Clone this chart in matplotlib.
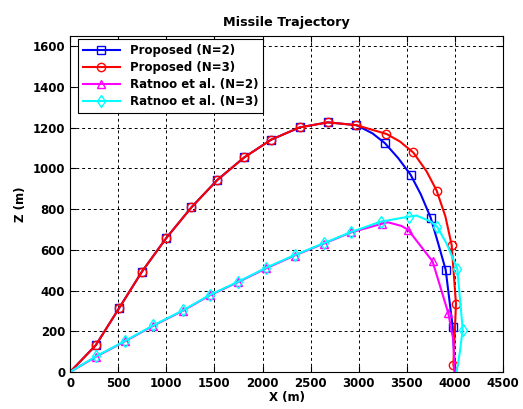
import matplotlib.pyplot as plt

OUTPUT_PATH = 'out.png'

# Proposed guidance law, N=2 (blue squares)
PROP_N2_X = [0, 268, 510, 747, 1000, 1260, 1530, 1810, 2090, 2385, 2680, 2976,
             3142, 3271, 3410, 3538, 3645, 3747, 3826, 3903, 3976, 4000]
PROP_N2_Z = [0, 132, 314, 493, 658, 808, 943, 1054, 1141, 1201, 1226, 1212,
             1172, 1124, 1050, 969, 872, 758, 630, 502, 221, 0]
PROP_N2_MARKS = [1, 2, 3, 4, 5, 6, 7, 8, 9, 10, 11, 13, 15, 17, 19, 20]

# Proposed guidance law, N=3 (red circles)
PROP_N3_X = [0, 268, 510, 747, 1000, 1260, 1530, 1810, 2090, 2385, 2680, 2976,
             3288, 3427, 3566, 3705, 3809, 3900, 3965, 4010, 3983, 4000]
PROP_N3_Z = [0, 132, 314, 493, 658, 808, 943, 1054, 1141, 1201, 1226, 1212,
             1169, 1132, 1078, 985, 891, 764, 624, 335, 34, 0]
PROP_N3_MARKS = [1, 2, 3, 4, 5, 6, 7, 8, 9, 10, 11, 12, 14, 16, 18, 19, 20]

# Ratnoo et al., N=2 (magenta triangles)
RAT_N2_X = [0, 274, 573, 865, 1170, 1455, 1750, 2038, 2333, 2635, 2924, 3240,
            3305, 3444, 3513, 3767, 3930, 3983, 3995]
RAT_N2_Z = [0, 76, 151, 227, 300, 377, 442, 509, 572, 630, 686, 728,
            735, 717, 698, 543, 289, 156, 0]
RAT_N2_MARKS = [1, 2, 3, 4, 5, 6, 7, 8, 9, 10, 11, 14, 15, 16]

# Ratnoo et al., N=3 (cyan diamonds)
RAT_N3_X = [0, 274, 573, 865, 1170, 1455, 1750, 2038, 2333, 2635, 2924, 3226,
            3521, 3600, 3740, 3816, 3913, 4024, 4080, 4048, 4017]
RAT_N3_Z = [0, 78, 153, 229, 302, 379, 444, 512, 574, 632, 688, 738,
            763, 768, 741, 712, 630, 506, 208, 90, 0]
RAT_N3_MARKS = [1, 2, 3, 4, 5, 6, 7, 8, 9, 10, 11, 12, 15, 17, 18]

X_TICKS = list(range(0, 4501, 500))
Z_TICKS = list(range(0, 1601, 200))


def build_plot(output_path=OUTPUT_PATH):
    plt.rcParams['font.family'] = ['DejaVu Sans']
    fig = plt.figure(figsize=(5.23, 4.09), dpi=100)
    ax = fig.add_axes([0.134, 0.0905, 0.828, 0.8215])

    common = dict(linewidth=1.5, markersize=6, markerfacecolor='none',
                  markeredgewidth=1.0)

    ax.plot(PROP_N2_X, PROP_N2_Z, color='#0000ff', marker='s',
            markevery=PROP_N2_MARKS, label='Proposed (N=2)', **common)
    ax.plot(PROP_N3_X, PROP_N3_Z, color='#ff0000', marker='o',
            markevery=PROP_N3_MARKS, label='Proposed (N=3)', **common)
    ax.plot(RAT_N2_X, RAT_N2_Z, color='#ff00ff', marker='^',
            markevery=RAT_N2_MARKS, label='Ratnoo et al. (N=2)', **common)
    ax.plot(RAT_N3_X, RAT_N3_Z, color='#00ffff', marker='d',
            markevery=RAT_N3_MARKS, label='Ratnoo et al. (N=3)', **common)

    ax.set_xlim(0, 4500)
    ax.set_ylim(0, 1650)
    ax.set_xticks(X_TICKS)
    ax.set_yticks(Z_TICKS)
    ax.tick_params(direction='in', top=True, right=True, length=4,
                   labelsize=8.5)
    for lbl in ax.get_xticklabels() + ax.get_yticklabels():
        lbl.set_fontweight('bold')

    ax.grid(True, color='black', linestyle=(0, (3, 3)), linewidth=0.7)
    for spine in ax.spines.values():
        spine.set_linewidth(0.8)

    ax.set_xlabel('X (m)', fontsize=8.5, fontweight='bold', labelpad=1)
    ax.set_ylabel('Z (m)', fontsize=8.5, fontweight='bold', labelpad=4)
    ax.set_title('Missile Trajectory', fontsize=9.2, fontweight='bold', pad=7)

    leg = ax.legend(loc='upper left', bbox_to_anchor=(0.018, 0.99),
                    borderaxespad=0, fancybox=False, framealpha=1,
                    edgecolor='black', handlelength=3.2, labelspacing=0.35,
                    prop={'size': 8.5, 'weight': 'bold'})
    leg.get_frame().set_linewidth(0.8)

    fig.savefig(output_path, dpi=100)
    return fig, ax


if __name__ == '__main__':
    build_plot()
